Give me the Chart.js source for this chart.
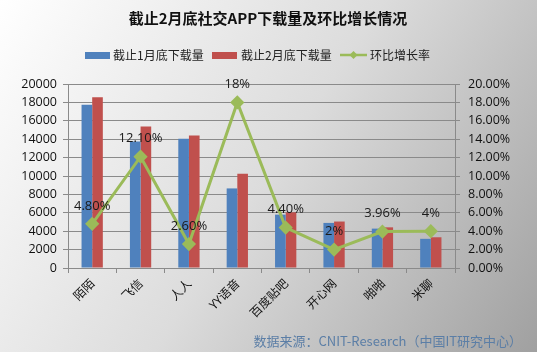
<!DOCTYPE html>
<html>
<head>
<meta charset="utf-8">
<script src="https://cdn.jsdelivr.net/npm/chart.js@4/dist/chart.umd.min.js"></script>
<style>
  html, body { margin: 0; padding: 0; background: #fff; }
  #wrap { width: 537px; height: 352px; }
</style>
</head>
<body>
<div id="wrap"><canvas id="chart" width="537" height="352"></canvas></div>
<script>
const apps = ['陌陌', '飞信', '人人', 'YY语音', '百度贴吧', '开心网', '啪啪', '米聊'];
const janDownloads = [17750, 13750, 14050, 8650, 5800, 4900, 4280, 3170];
const febDownloads = [18550, 15380, 14400, 10250, 6050, 5050, 4420, 3340];
const growthRate = [4.8, 12.1, 2.6, 18, 4.4, 2, 3.96, 4];
const growthLabels = ['4.80%', '12.10%', '2.60%', '18%', '4.40%', '2%', '3.96%', '4%'];

const BLUE = '#4F81BD', RED = '#C0504D', GREEN = '#9BBB59';
const tickFont = { family: 'Open Sans, Noto Sans, sans-serif', size: 12.5 };

const decor = {
    id: 'decor',
    beforeDraw(chart) {
        const c = chart.ctx, w = chart.width, h = chart.height;
        c.save();
        const g = c.createLinearGradient(0, 0, w, h);
        g.addColorStop(0, '#ffffff');
        g.addColorStop(0.5, '#dcdcdc');
        g.addColorStop(1, '#a0a0a0');
        c.fillStyle = g;
        c.fillRect(0, 0, w, h);
        c.restore();
    },
    afterDraw(chart) {
        const c = chart.ctx;
        c.save();
        // title
        c.fillStyle = '#111';
        c.font = 'bold 15px "Noto Sans CJK SC", sans-serif';
        c.textAlign = 'center';
        c.textBaseline = 'middle';
        c.fillText('截止2月底社交APP下载量及环比增长情况', 268, 18);
        // legend
        c.font = '12px "Noto Sans CJK SC", sans-serif';
        c.textAlign = 'left';
        const ly = 55;
        c.fillStyle = BLUE;
        c.fillRect(85, ly - 3, 25, 7);
        c.fillStyle = '#222';
        c.fillText('截止1月底下载量', 113, ly);
        c.fillStyle = RED;
        c.fillRect(212, ly - 3, 25, 7);
        c.fillStyle = '#222';
        c.fillText('截止2月底下载量', 241, ly);
        c.strokeStyle = GREEN;
        c.lineWidth = 2.5;
        c.beginPath();
        c.moveTo(340, ly);
        c.lineTo(367, ly);
        c.stroke();
        c.fillStyle = GREEN;
        c.beginPath();
        c.moveTo(353.5, ly - 4);
        c.lineTo(357.5, ly);
        c.lineTo(353.5, ly + 4);
        c.lineTo(349.5, ly);
        c.closePath();
        c.fill();
        c.fillStyle = '#222';
        c.fillText('环比增长率', 370, ly);
        // source
        c.fillStyle = '#5b7ea6';
        c.font = '13px "Noto Sans CJK SC", sans-serif';
        c.textAlign = 'right';
        c.fillText('数据来源：CNIT-Research（中国IT研究中心）', 522, 341);
        c.restore();
    },
    afterDatasetsDraw(chart) {
        const meta = chart.getDatasetMeta(2);
        const c = chart.ctx;
        c.save();
        c.fillStyle = '#1a1a1a';
        c.font = '13px "Open Sans", "Noto Sans", sans-serif';
        c.textAlign = 'center';
        c.textBaseline = 'middle';
        meta.data.forEach((p, i) => {
            c.fillText(growthLabels[i], p.x, p.y - 18);
        });
        c.restore();
    }
};

const ctx = document.getElementById('chart').getContext('2d');
const chart = new Chart(ctx, {
    type: 'bar',
    data: {
        labels: apps,
        datasets: [
            {
                label: '截止1月底下载量',
                data: janDownloads,
                backgroundColor: BLUE,
                yAxisID: 'y',
                order: 2,
            },
            {
                label: '截止2月底下载量',
                data: febDownloads,
                backgroundColor: RED,
                yAxisID: 'y',
                order: 2,
            },
            {
                type: 'line',
                label: '环比增长率',
                data: growthRate,
                borderColor: GREEN,
                backgroundColor: GREEN,
                borderWidth: 3,
                pointStyle: 'rectRot',
                pointRadius: 5,
                pointHoverRadius: 5,
                tension: 0,
                yAxisID: 'y1',
                order: 1,
            },
        ]
    },
    options: {
        responsive: false,
        animation: false,
        categoryPercentage: 0.44,
        barPercentage: 1.0,
        layout: { padding: { top: 84, left: 8, right: 8, bottom: 0 } },
        plugins: {
            legend: { display: false },
            title: { display: false },
            tooltip: { enabled: false },
        },
        scales: {
            x: {
                grid: { drawOnChartArea: false, offset: true, tickLength: 5, color: '#8a8a8a' },
                border: { color: '#8a8a8a' },
                ticks: {
                    minRotation: 45, maxRotation: 45, color: '#111',
                    font: { family: '"Noto Sans CJK SC", sans-serif', size: 12 },
                },
                afterFit(s) { s.height = 84; },
            },
            y: {
                position: 'left',
                min: 0, max: 20000,
                ticks: { stepSize: 2000, color: '#111', font: tickFont, padding: 6, callback: v => String(v) },
                grid: { color: '#8a8a8a', tickLength: 5 },
                border: { color: '#8a8a8a' },
                afterFit(s) { s.width = 60; },
            },
            y1: {
                position: 'right',
                min: 0, max: 20,
                ticks: {
                    stepSize: 2, color: '#111', font: tickFont, padding: 8,
                    callback: v => v.toFixed(2) + '%',
                },
                grid: { drawOnChartArea: false, color: '#8a8a8a', tickLength: 5 },
                border: { color: '#8a8a8a' },
                afterFit(s) { s.width = 74; },
            },
        },
    },
    plugins: [decor],
});
</script>
</body>
</html>
